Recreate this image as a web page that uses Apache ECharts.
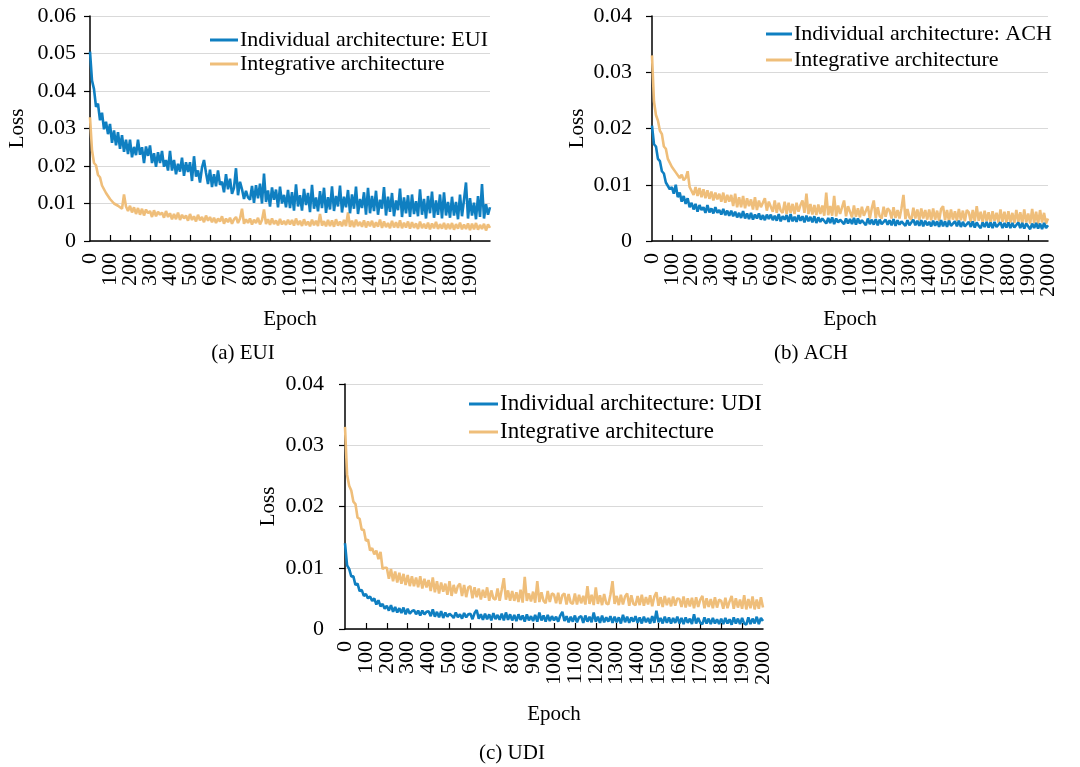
<!DOCTYPE html>
<html>
<head>
    <meta charset="utf-8">
    <title>Loss curves</title>
    <script src="https://cdn.jsdelivr.net/npm/echarts@6/dist/echarts.min.js"></script>
</head>
<body style="margin:0">
<div id="main" style="width:1080px;height:767px;"></div>
<script type="text/javascript">
    // loss values, one value every 10 epochs (0..2000), in units of 1e-4
    var epochStep = 10;

    var euiIndividual = [
        505, 428, 405, 358, 366, 322, 342, 298, 318, 285, 312, 262, 295, 255, 290, 246, 282, 238, 270, 232,
        270, 223, 251, 229, 270, 230, 250, 208, 252, 227, 255, 208, 234, 198, 237, 208, 240, 198, 216, 188,
        240, 188, 216, 178, 206, 185, 222, 174, 210, 184, 210, 160, 226, 172, 188, 156, 196, 216, 182, 152,
        190, 144, 178, 146, 188, 150, 158, 130, 178, 138, 166, 126, 142, 194, 122, 158, 138, 112, 134, 116,
        110, 147, 102, 149, 114, 153, 100, 180, 104, 135, 92, 143, 110, 137, 90, 145, 100, 123, 90, 136,
        88, 130, 81, 151, 92, 122, 81, 139, 96, 128, 77, 150, 86, 116, 79, 133, 88, 142, 75, 117,
        84, 146, 80, 120, 92, 148, 76, 118, 90, 136, 74, 124, 86, 145, 72, 112, 88, 130, 70, 142,
        74, 120, 80, 134, 70, 110, 86, 144, 68, 118, 78, 128, 66, 108, 82, 140, 64, 116, 74, 122,
        64, 124, 72, 106, 66, 138, 70, 112, 60, 120, 74, 132, 62, 108, 70, 124, 60, 130, 68, 104,
        62, 118, 68, 104, 58, 124, 66, 110, 156, 60, 114, 68, 102, 58, 120, 64, 152, 60, 98, 70,
        90
    ];
    var euiIntegrative = [
        330, 242, 208, 202, 176, 170, 148, 146, 128, 128, 112, 114, 100, 104, 94, 98, 86, 124, 92, 80,
        94, 76, 90, 72, 88, 70, 86, 68, 84, 74, 80, 64, 82, 66, 78, 70, 76, 62, 80, 64,
        74, 58, 72, 58, 76, 56, 70, 60, 68, 54, 72, 56, 66, 52, 70, 55, 64, 50, 68, 54,
        64, 50, 62, 48, 60, 52, 66, 46, 60, 50, 62, 46, 58, 64, 48, 60, 86, 46, 58, 48,
        60, 44, 57, 48, 62, 44, 56, 84, 45, 58, 43, 60, 45, 55, 42, 59, 44, 54, 43, 57,
        44, 56, 41, 60, 43, 54, 40, 58, 42, 52, 39, 57, 42, 54, 40, 72, 41, 53, 39, 56,
        40, 55, 38, 58, 41, 52, 39, 56, 40, 76, 38, 54, 37, 57, 40, 51, 38, 55, 36, 52,
        39, 54, 36, 50, 38, 57, 35, 52, 37, 48, 34, 54, 36, 50, 35, 55, 34, 49, 36, 52,
        33, 50, 35, 47, 32, 52, 34, 46, 33, 49, 31, 47, 34, 51, 32, 45, 33, 48, 31, 46,
        32, 48, 30, 45, 33, 49, 31, 44, 32, 47, 29, 46, 31, 48, 30, 43, 32, 46, 28, 44,
        35
    ];

    var achIndividual = [
        205, 172, 168, 146, 142, 124, 120, 104, 104, 92, 96, 84, 100, 78, 86, 70, 80, 66, 76, 60,
        68, 56, 66, 52, 64, 55, 60, 50, 64, 51, 58, 49, 60, 50, 55, 47, 57, 46, 54, 45,
        54, 44, 52, 42, 50, 41, 53, 40, 49, 39, 50, 38, 47, 40, 49, 38, 46, 37, 47, 39,
        47, 37, 45, 36, 48, 35, 44, 38, 46, 34, 48, 35, 43, 34, 46, 36, 44, 33, 45, 35,
        43, 33, 44, 32, 42, 34, 40, 43, 31, 41, 32, 42, 30, 40, 33, 38, 41, 30, 40, 31,
        39, 30, 41, 29, 40, 31, 37, 39, 28, 40, 30, 38, 29, 39, 28, 38, 30, 27, 38, 29,
        37, 28, 39, 27, 37, 29, 35, 38, 27, 37, 28, 26, 38, 28, 36, 27, 37, 26, 36, 28,
        34, 26, 36, 27, 35, 25, 37, 26, 35, 25, 36, 27, 24, 35, 26, 36, 25, 34, 26, 24,
        34, 25, 35, 24, 33, 27, 23, 33, 25, 34, 24, 33, 23, 34, 25, 24, 33, 23, 32, 24,
        33, 23, 32, 24, 22, 33, 23, 32, 22, 31, 33, 21, 31, 23, 32, 22, 31, 21, 32, 23,
        28
    ];
    var achIntegrative = [
        330, 248, 224, 214, 196, 190, 168, 164, 146, 146, 132, 134, 122, 124, 112, 118, 108, 112, 124, 96,
        98, 82, 96, 80, 94, 78, 92, 76, 90, 75, 88, 72, 86, 74, 84, 70, 86, 68, 82, 70,
        82, 62, 84, 60, 78, 60, 80, 58, 76, 62, 74, 56, 78, 55, 72, 60, 68, 76, 54, 70,
        70, 52, 72, 50, 68, 54, 50, 70, 48, 68, 50, 66, 48, 68, 52, 64, 72, 50, 84, 48,
        66, 47, 64, 46, 65, 48, 63, 45, 86, 46, 62, 45, 80, 44, 63, 48, 46, 72, 44, 62,
        60, 42, 63, 43, 58, 42, 61, 45, 42, 62, 40, 58, 72, 41, 60, 44, 40, 61, 43, 58,
        54, 40, 60, 41, 55, 40, 58, 82, 39, 57, 42, 38, 59, 40, 56, 37, 58, 40, 55, 38,
        56, 37, 58, 38, 54, 36, 57, 62, 37, 55, 35, 56, 38, 53, 36, 57, 37, 54, 35, 55,
        51, 34, 55, 35, 62, 36, 52, 33, 54, 35, 51, 32, 53, 36, 50, 33, 56, 34, 52, 33,
        53, 33, 50, 32, 55, 34, 51, 31, 56, 33, 49, 31, 57, 32, 52, 30, 55, 33, 50, 31,
        40
    ];

    var udiIndividual = [
        140, 104, 98, 86, 86, 72, 74, 62, 64, 54, 57, 50, 53, 46, 50, 40, 47, 37, 41, 33,
        38, 30, 39, 28, 36, 27, 34, 26, 35, 24, 33, 25, 29, 31, 24, 30, 22, 30, 24, 28,
        29, 21, 32, 20, 28, 19, 29, 18, 27, 20, 25, 22, 18, 27, 19, 24, 17, 26, 19, 24,
        25, 16, 26, 31, 17, 24, 15, 25, 16, 24, 14, 26, 16, 23, 15, 25, 14, 27, 15, 24,
        14, 23, 13, 24, 15, 22, 12, 24, 14, 21, 13, 23, 12, 27, 14, 22, 12, 23, 13, 21,
        14, 20, 12, 22, 28, 13, 21, 11, 20, 12, 22, 11, 19, 21, 10, 22, 12, 20, 11, 27,
        12, 20, 10, 22, 11, 19, 12, 21, 10, 20, 11, 19, 9, 23, 11, 20, 10, 19, 12, 21,
        10, 19, 9, 20, 11, 18, 9, 21, 10, 30, 11, 18, 9, 20, 10, 19, 9, 18, 10, 20,
        9, 18, 8, 19, 10, 17, 8, 24, 9, 18, 10, 8, 19, 9, 17, 8, 18, 9, 16, 8,
        17, 8, 18, 9, 16, 7, 19, 9, 17, 8, 18, 9, 7, 19, 8, 17, 9, 20, 8, 18,
        13
    ];
    var udiIntegrative = [
        330, 252, 234, 226, 208, 204, 182, 180, 162, 162, 144, 146, 128, 132, 122, 128, 114, 126, 98, 100,
        100, 82, 98, 78, 94, 76, 92, 74, 90, 72, 88, 70, 86, 70, 84, 68, 86, 66, 82, 68,
        80, 62, 84, 60, 78, 58, 76, 61, 74, 56, 78, 54, 72, 58, 70, 74, 54, 72, 52, 68,
        70, 50, 68, 52, 66, 48, 64, 51, 68, 46, 63, 50, 48, 66, 46, 64, 83, 48, 63, 46,
        62, 46, 60, 44, 64, 43, 85, 46, 58, 45, 61, 43, 78, 44, 60, 46, 42, 62, 44, 58,
        56, 42, 59, 41, 55, 58, 40, 57, 43, 41, 58, 40, 56, 42, 54, 40, 70, 41, 56, 39,
        68, 41, 55, 39, 57, 42, 40, 56, 78, 41, 54, 39, 56, 40, 53, 58, 38, 55, 41, 39,
        54, 39, 56, 38, 52, 40, 55, 37, 53, 60, 38, 52, 36, 54, 39, 51, 37, 53, 38, 50,
        49, 36, 53, 35, 50, 37, 51, 34, 52, 36, 48, 54, 34, 50, 36, 49, 34, 52, 35, 48,
        46, 33, 51, 34, 45, 54, 33, 50, 35, 48, 33, 55, 32, 49, 34, 53, 32, 48, 33, 52,
        35
    ];

    var panels = [
        {key: 'EUI', caption: '(a) EUI', indiv: euiIndividual, integ: euiIntegrative, yMax: 0.06},
        {key: 'ACH', caption: '(b) ACH', indiv: achIndividual, integ: achIntegrative, yMax: 0.04},
        {key: 'UDI', caption: '(c) UDI', indiv: udiIndividual, integ: udiIntegrative, yMax: 0.04}
    ];

    var blue = '#0F7FC1';
    var orange = '#EFBE7A';
    var font = 'Liberation Serif, Times New Roman, serif';

    // panel boxes measured on the figure
    var grids = [
        {left: 90, top: 16, width: 400, height: 225},
        {left: 652, top: 16, width: 396, height: 225},
        {left: 345, top: 384, width: 418, height: 245}
    ];
    var yLabelMargin = [14, 20, 21];
    var yNameGap = [62, 64, 66];
    var xNameGap = [68, 68, 75];
    var legendPos = [
        {left: 210, top: 28, lineHeight: 24, size: 22, w: 28},
        {left: 766, top: 21, lineHeight: 26, size: 22, w: 26},
        {left: 469, top: 390, lineHeight: 28, size: 23, w: 29}
    ];
    var captionPos = [[243, 353], [811, 353], [512, 753]];

    function toPoints(vals) {
        return vals.map(function (v, i) {
            return [i * epochStep, v / 10000];
        });
    }

    var xLabelStyle = {rotate: 90, margin: 12, fontSize: 22, fontFamily: font, color: '#000'};

    var option = {
        animation: false,
        backgroundColor: '#fff',
        textStyle: {fontFamily: font, color: '#000'},
        grid: [], xAxis: [], yAxis: [], series: [], legend: [], graphic: []
    };

    panels.forEach(function (p, k) {
        var g = grids[k];
        option.grid.push({left: g.left, top: g.top, width: g.width, height: g.height, outerBoundsMode: 'none'});

        // main x axis: line, ticks, labels 100..1900
        option.xAxis[k] = {
            type: 'value', gridIndex: k, position: 'bottom', min: 0, max: 2000, interval: 100,
            name: 'Epoch', nameLocation: 'middle', nameGap: xNameGap[k],
            nameTextStyle: {fontSize: 21, fontFamily: font, color: '#000'},
            axisLine: {lineStyle: {color: '#000', width: 1.5}},
            axisTick: {inside: true, length: 6, lineStyle: {color: '#000', width: 1.2}},
            axisLabel: Object.assign({
                showMinLabel: false, showMaxLabel: false,
                formatter: function (v) { return String(v); }
            }, xLabelStyle),
            splitLine: {show: false}
        };
        // second x axis on the same grid only for the end labels 0 and 2000
        // (ECharts would otherwise drop 100 / 1900 as overlapping the end labels)
        option.xAxis[k + 3] = {
            type: 'value', gridIndex: k, position: 'bottom', offset: 0, min: 0, max: 2000, interval: 2000,
            axisLine: {show: false}, axisTick: {show: false}, splitLine: {show: false},
            axisLabel: Object.assign({
                showMinLabel: true, showMaxLabel: true,
                formatter: function (v) {
                    // (a) stops its labels at 1900
                    return (k === 0 && v === 2000) ? '' : String(v);
                }
            }, xLabelStyle)
        };

        option.yAxis.push({
            type: 'value', gridIndex: k, min: 0, max: p.yMax, interval: 0.01,
            name: 'Loss', nameLocation: 'middle', nameGap: yNameGap[k],
            nameTextStyle: {fontSize: 21, fontFamily: font, color: '#000'},
            axisLine: {show: true, lineStyle: {color: '#000', width: 1.5}},
            axisTick: {show: true, length: 6, lineStyle: {color: '#000', width: 1.2}},
            axisLabel: {margin: yLabelMargin[k], fontSize: 22, fontFamily: font, color: '#000',
                showMinLabel: true, showMaxLabel: true},
            splitLine: {lineStyle: {color: '#d9d9d9', width: 1.2}}
        });

        var indivName = 'Individual architecture: ' + p.key;
        option.series.push({
            name: 'Integrative architecture', type: 'line', xAxisIndex: k, yAxisIndex: k,
            data: toPoints(p.integ), showSymbol: false, color: orange,
            lineStyle: {width: 2.6, color: orange}
        });
        option.series.push({
            name: indivName, type: 'line', xAxisIndex: k, yAxisIndex: k,
            data: toPoints(p.indiv), showSymbol: false, color: blue,
            lineStyle: {width: 2.6, color: blue}
        });

        var lp = legendPos[k];
        option.legend.push({
            orient: 'vertical', left: lp.left, top: lp.top, padding: 0, itemGap: 0,
            icon: 'rect', itemWidth: lp.w, itemHeight: 3,
            data: [indivName, 'Integrative architecture'],
            textStyle: {fontSize: lp.size, lineHeight: lp.lineHeight, fontFamily: font, color: '#000', padding: [0, 0, 0, -3]}
        });

        option.graphic.push({
            type: 'text', x: captionPos[k][0], y: captionPos[k][1],
            style: {text: p.caption, font: '21px ' + font, fill: '#000', align: 'center', verticalAlign: 'middle'}
        });
    });

    var myChart = echarts.init(document.getElementById('main'));
    myChart.setOption(option);
</script>
</body>
</html>
